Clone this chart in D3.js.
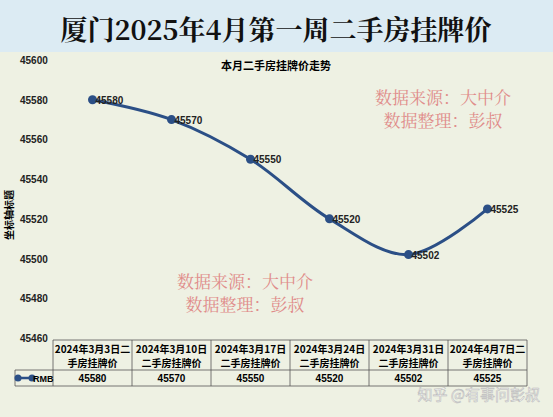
<!DOCTYPE html>
<html><head><meta charset="utf-8">
<script src="https://cdn.jsdelivr.net/npm/d3@7"></script>
<style>body{margin:0;background:#eef1e3}</style>
</head><body><svg id="c" width="553" height="417"></svg>
<script>
var categories = ["2024年3月3日二|手房挂牌价","2024年3月10日|二手房挂牌价","2024年3月17日|二手房挂牌价","2024年3月24日|二手房挂牌价","2024年3月31日|二手房挂牌价","2024年4月7日二|手房挂牌价"];
var values = [45580, 45570, 45550, 45520, 45502, 45525];
var yTicks = [45460, 45480, 45500, 45520, 45540, 45560, 45580, 45600];
var seriesName = "RMB";

var svg = d3.select("#c");
svg.append("rect").attr("width",553).attr("height",417).attr("fill","#eef1e3");
svg.append("rect").attr("width",553).attr("height",52).attr("fill","#dcebf3");
svg.append("text").attr("x",276).attr("y",40).attr("text-anchor","middle")
  .attr("font-family","Noto Serif CJK SC, Noto Sans CJK SC").attr("font-size",27).attr("font-weight","bold")
  .attr("fill","#111").text("厦门2025年4月第一周二手房挂牌价");

var x = d3.scaleBand().domain(d3.range(categories.length)).range([53,527]);
var y = d3.scaleLinear().domain([45460,45600]).range([338,60]);
var cjk = "Noto Sans CJK SC";

svg.append("text").attr("x",276).attr("y",70).attr("text-anchor","middle").attr("font-family",cjk)
  .attr("font-size",11).attr("font-weight","bold").text("本月二手房挂牌价走势");

svg.selectAll(".yt").data(yTicks).enter().append("text")
  .attr("x",20).attr("y",function(d){return y(d)+4}).attr("font-family","Liberation Sans")
  .attr("font-size",10).attr("font-weight","bold").attr("fill","#222").text(function(d){return d});
svg.append("text").attr("transform","translate(13,215) rotate(-90)").attr("text-anchor","middle")
  .attr("font-family",cjk).attr("font-size",10).attr("font-weight","bold").text("坐标轴标题");

// watermarks
function wm(cx, y0){
  [["数据来源：大中介",0],["数据整理：彭叔",23]].forEach(function(t){
    svg.append("text").attr("x",cx).attr("y",y0+t[1]).attr("text-anchor","middle")
      .attr("font-family","Noto Serif CJK SC, serif").attr("font-size",17).attr("fill","#e08c8a").text(t[0]);
  });
}
wm(443,104); wm(245,288);

var cx = function(i){return x(i)+x.bandwidth()/2};
var line = d3.line().x(function(d,i){return cx(i)}).y(function(d){return y(d)}).curve(d3.curveCatmullRom.alpha(0.5));
svg.append("path").datum(values).attr("d",line).attr("fill","none").attr("stroke","#2b4f86").attr("stroke-width",3);
svg.selectAll(".pt").data(values).enter().append("circle")
  .attr("cx",function(d,i){return cx(i)}).attr("cy",function(d){return y(d)}).attr("r",4.5).attr("fill","#2b4f86");
svg.selectAll(".lb").data(values).enter().append("text")
  .attr("x",function(d,i){return cx(i)+3}).attr("y",function(d){return y(d)+4})
  .attr("font-family","Liberation Sans").attr("font-size",10).attr("font-weight","bold").attr("fill","#222").text(function(d){return d});

// table
var g = svg.append("g").attr("stroke","#555").attr("stroke-width",0.8);
g.append("line").attr("x1",53).attr("x2",527).attr("y1",340).attr("y2",340);
g.append("line").attr("x1",15).attr("x2",527).attr("y1",370).attr("y2",370);
g.append("line").attr("x1",15).attr("x2",527).attr("y1",386).attr("y2",386);
g.append("line").attr("x1",15).attr("x2",15).attr("y1",370).attr("y2",386);
x.domain().concat([6]).forEach(function(i){
  var xx = i<6 ? x(i) : 527;
  g.append("line").attr("x1",xx).attr("x2",xx).attr("y1",340).attr("y2",386);
});
categories.forEach(function(c,i){
  c.split("|").forEach(function(s,j){
    svg.append("text").attr("x",cx(i)).attr("y",353+j*14).attr("text-anchor","middle")
      .attr("font-family",cjk).attr("font-size",10).attr("font-weight","bold").text(s);
  });
  svg.append("text").attr("x",cx(i)).attr("y",382).attr("text-anchor","middle")
    .attr("font-family","Liberation Sans").attr("font-size",10).attr("font-weight","bold").text(values[i]);
});
svg.append("line").attr("x1",18).attr("x2",32).attr("y1",378).attr("y2",378).attr("stroke","#2b4f86").attr("stroke-width",2.5);
[18,32].forEach(function(p){svg.append("circle").attr("cx",p).attr("cy",378).attr("r",3.5).attr("fill","#2b4f86")});
svg.append("text").attr("x",33).attr("y",382).attr("font-family","Liberation Sans").attr("font-size",9)
  .attr("font-weight","bold").text(seriesName);

svg.append("text").attr("x",540).attr("y",400).attr("text-anchor","end").attr("font-family",cjk)
  .attr("font-size",15).attr("fill","#fff").attr("stroke","#bbb").attr("stroke-width",0.6).text("知乎 @有事问彭叔");
</script></body></html>
